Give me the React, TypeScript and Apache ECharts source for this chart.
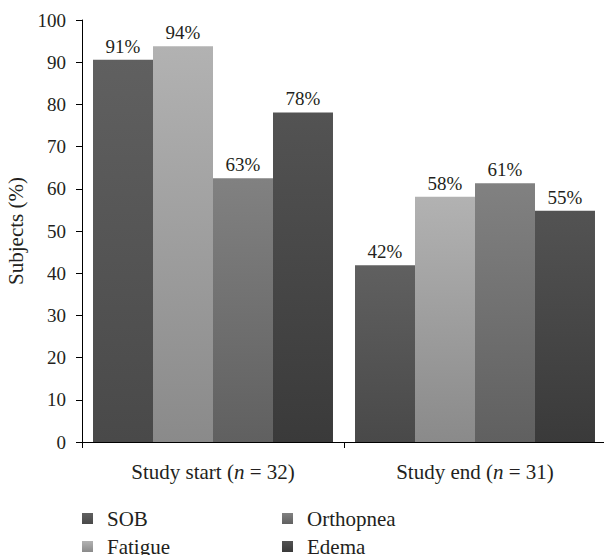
import React, { useEffect, useRef } from "react";
import * as echarts from "echarts";

const categories = ["start", "end"];
const categoryLabels = [
  ["Study start (", "n", " = 32)"],
  ["Study end (", "n", " = 31)"],
];
const seriesNames = ["SOB", "Fatigue", "Orthopnea", "Edema"];
const sobValues = [90.6, 41.9];
const fatigueValues = [93.8, 58.1];
const orthopneaValues = [62.5, 61.3];
const edemaValues = [78.1, 54.8];
const yTicks = { min: 0, max: 100, interval: 10 };
const gradients = [
  ["#606060", "#494949"],
  ["#b2b2b2", "#8a8a8a"],
  ["#818181", "#606060"],
  ["#535353", "#3a3a3a"],
];

const FONT = "Liberation Serif";
const TXT = "#231f20";

export default function App() {
  const ref = useRef<HTMLDivElement>(null);
  useEffect(() => {
    if (!ref.current) return;
    const chart = echarts.init(ref.current, null, { renderer: "svg" });
    const values = [sobValues, fatigueValues, orthopneaValues, edemaValues];
    const series = seriesNames.map((name, i) => ({
      name,
      type: "bar",
      data: values[i],
      barGap: "0%",
      barCategoryGap: "8.4%",
      itemStyle: {
        color: new echarts.graphic.LinearGradient(0, 0, 0, 1, [
          { offset: 0, color: gradients[i][0] },
          { offset: 1, color: gradients[i][1] },
        ]),
      },
      label: {
        show: true,
        position: "top",
        distance: 4,
        color: TXT,
        fontFamily: FONT,
        fontSize: 19,
        formatter: (p: any) => Math.round(p.value) + "%",
      },
    }));
    const legendPos = [
      { left: 82, top: 508 },
      { left: 82, top: 536 },
      { left: 282, top: 508 },
      { left: 282, top: 536 },
    ];
    const legends = seriesNames.map((name, i) => ({
      orient: "vertical",
      left: legendPos[i].left,
      top: legendPos[i].top,
      padding: 0,
      itemWidth: 11,
      itemHeight: 11,
      icon: "rect",
      data: [name],
      textStyle: {
        fontFamily: FONT,
        fontSize: 21,
        color: TXT,
        lineHeight: 11,
        padding: [0, 0, 0, 9],
      },
    }));
    chart.setOption({
      animation: false,
      backgroundColor: "#ffffff",
      textStyle: { fontFamily: FONT },
      grid: {
        left: 82,
        top: 20,
        width: 524,
        height: 422,
        containLabel: false,
        outerBoundsMode: "none",
      },
      legend: legends,
      xAxis: {
        type: "category",
        data: categories,
        axisLine: { lineStyle: { color: "#000", width: 1 } },
        axisTick: { show: true, length: 6, lineStyle: { color: "#000" } },
        axisLabel: {
          interval: 0,
          margin: 19,
          color: TXT,
          fontFamily: FONT,
          fontSize: 21,
          formatter: (v: string) => {
            const idx = categories.indexOf(v);
            const parts = categoryLabels[idx];
            return `{a|${parts[0]}}{i|${parts[1]}}{a|${parts[2]}}`;
          },
          rich: {
            a: { fontFamily: FONT, fontSize: 21, color: TXT },
            i: { fontFamily: FONT, fontSize: 21, color: TXT, fontStyle: "italic" },
          },
        },
      },
      yAxis: {
        type: "value",
        min: yTicks.min,
        max: yTicks.max,
        interval: yTicks.interval,
        name: "Subjects (%)",
        nameLocation: "middle",
        nameRotate: 90,
        nameGap: 56,
        nameTextStyle: { fontFamily: FONT, fontSize: 21, color: TXT },
        axisLine: { show: true, lineStyle: { color: "#000", width: 1 } },
        axisTick: { show: true, length: 6, lineStyle: { color: "#000" } },
        splitLine: { show: false },
        axisLabel: {
          margin: 16,
          color: TXT,
          fontFamily: FONT,
          fontSize: 19,
        },
      },
      series,
    } as any);
    return () => chart.dispose();
  }, []);
  return (
    <div
      ref={ref}
      style={{ position: "fixed", left: 0, top: 0, width: 604, height: 555 }}
    />
  );
}
